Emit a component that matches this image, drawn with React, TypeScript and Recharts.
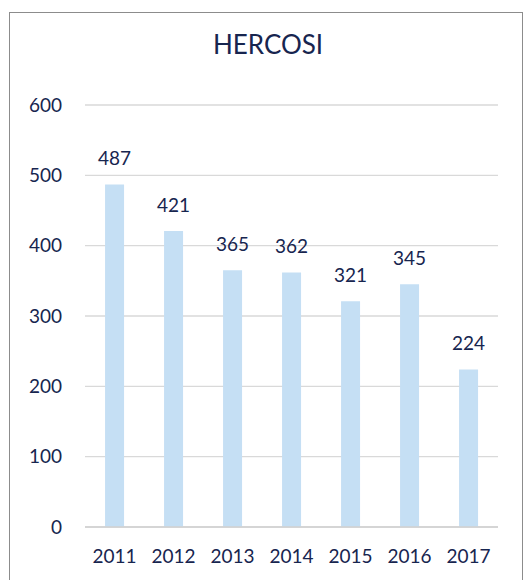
import React from 'react';
import { BarChart, Bar, XAxis, YAxis, CartesianGrid, LabelList } from 'recharts';

const years = ['2011', '2012', '2013', '2014', '2015', '2016', '2017'];
const counts = [487, 421, 365, 362, 321, 345, 224];
const yTicks = [0, 100, 200, 300, 400, 500, 600];

const data = years.map((year, i) => ({ year, value: counts[i] }));

const textColor = '#17254f';
const font = 'Lato, "Open Sans", sans-serif';

export default function App() {
  return (
    <div style={{ position: 'absolute', left: 0, top: 0, width: 525, height: 580, overflow: 'hidden', background: '#fff', fontFamily: font }}>
      <div style={{ position: 'absolute', left: 9, top: 12, width: 512, height: 600, border: '1.5px solid #8c8c8c' }} />
      <div style={{ position: 'absolute', left: 0, width: 536, top: 28, textAlign: 'center', fontSize: 26, color: textColor }}>
        HERCOSI
      </div>
      <BarChart
        width={525}
        height={580}
        data={data}
        margin={{ top: 105, right: 27, bottom: 0, left: 25 }}
        barCategoryGap="34%"
        style={{ position: 'absolute', left: 0, top: 0 }}
      >
        <CartesianGrid vertical={false} stroke="#d9d9d9" strokeWidth={1.3} />
        <XAxis
          dataKey="year"
          height={53}
          tickLine={false}
          axisLine={{ stroke: '#d0d0d0', strokeWidth: 1.5 }}
          tickSize={0}
          tickMargin={23}
          tick={{ fill: textColor, fontSize: 19, fontFamily: font }}
        />
        <YAxis
          width={60}
          domain={[0, 600]}
          ticks={yTicks}
          tickLine={false}
          axisLine={false}
          tickSize={0}
          tickMargin={23}
          tick={{ fill: textColor, fontSize: 19, fontFamily: font }}
        />
        <Bar dataKey="value" fill="#c5dff4" isAnimationActive={false}>
          <LabelList dataKey="value" position="top" offset={19} fill={textColor} fontSize={19} fontFamily={font} />
        </Bar>
      </BarChart>
    </div>
  );
}
